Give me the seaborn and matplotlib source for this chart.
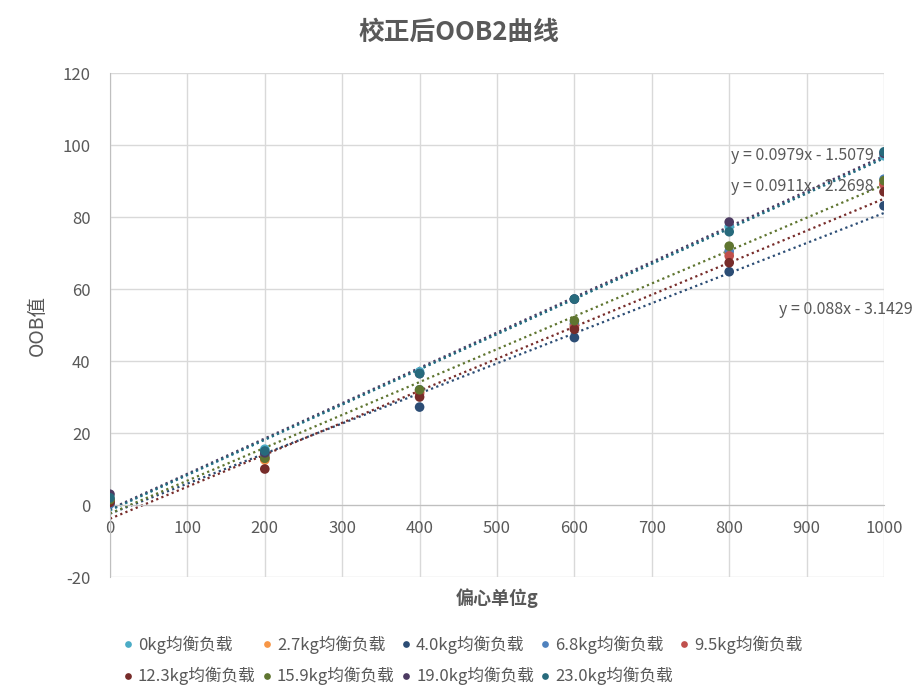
import numpy as np
import pandas as pd
import matplotlib
matplotlib.use("Agg")
import matplotlib.pyplot as plt
import seaborn as sns

# data
x_vals = [0, 200, 400, 600, 800, 1000]
loads = ["0kg均衡负载", "2.7kg均衡负载", "4.0kg均衡负载", "6.8kg均衡负载", "9.5kg均衡负载",
         "12.3kg均衡负载", "15.9kg均衡负载", "19.0kg均衡负载", "23.0kg均衡负载"]
y_0kg  = [1.0, 15.5, 37.0, 57.2, 77.3, 97.0]
y_2_7  = [0.8, 12.5, 31.5, 50.0, 70.1, 89.3]
y_4_0  = [0.5, 14.0, 27.2, 46.5, 64.8, 83.1]
y_6_8  = [0.3, 13.5, 32.0, 50.3, 70.5, 90.5]
y_9_5  = [1.2, 13.0, 31.0, 49.4, 69.2, 89.0]
y_12_3 = [0.7, 10.0, 30.0, 48.8, 67.3, 87.0]
y_15_9 = [1.5, 13.0, 32.0, 51.2, 71.9, 90.1]
y_19_0 = [3.0, 14.5, 36.5, 57.2, 78.6, 97.7]
y_23_0 = [2.0, 15.0, 36.5, 57.2, 75.9, 98.1]
series = [y_0kg, y_2_7, y_4_0, y_6_8, y_9_5, y_12_3, y_15_9, y_19_0, y_23_0]

colors = ["#4BACC6", "#F79646", "#2C4D75", "#4F81BD", "#C0504D",
          "#772C2A", "#5F7530", "#4D3B62", "#276A7C"]
# series that carry a trendline
trend = ["0kg均衡负载", "4.0kg均衡负载", "12.3kg均衡负载", "15.9kg均衡负载",
         "19.0kg均衡负载", "23.0kg均衡负载"]
eqs = ["y = 0.0979x - 1.5079", "y = 0.0911x - 2.2698", "y = 0.088x - 3.1429"]

rows = []
for name, ys in zip(loads, series):
    for xv, yv in zip(x_vals, ys):
        rows.append({"偏心单位g": xv, "OOB值": yv, "负载": name})
df = pd.DataFrame(rows)

sns.set_style("white")
plt.rcParams["font.family"] = ["Noto Sans CJK SC", "DejaVu Sans"]
plt.rcParams["axes.unicode_minus"] = False
gray = "#595959"

fig = plt.figure(figsize=(9.18, 6.99), dpi=100)
ax = fig.add_axes([110 / 918, 1 - 577 / 699, (884 - 110) / 918, (577 - 73) / 699])

for name, c in zip(loads, colors):
    if name in trend:
        sns.regplot(data=df[df["负载"] == name], x="偏心单位g", y="OOB值", ax=ax,
                    scatter=False, ci=None, color=c,
                    line_kws=dict(ls=(0, (1, 1.5)), lw=1.6))

sns.scatterplot(data=df, x="偏心单位g", y="OOB值", hue="负载", hue_order=loads,
                palette=colors, s=48, edgecolor="none", ax=ax, legend=True, zorder=3)

ax.set_xlim(0, 1000)
ax.set_ylim(-20, 120)
ax.set_xticks(range(0, 1001, 100))
ax.set_yticks(range(-20, 121, 20))
ax.grid(True, color="#d9d9d9", lw=1)
ax.set_axisbelow(True)
for s in ["top", "right"]:
    ax.spines[s].set_visible(False)
ax.spines["bottom"].set_position(("data", 0))
ax.spines["bottom"].set_color("#bfbfbf")
ax.spines["left"].set_color("#bfbfbf")
ax.tick_params(length=0, labelsize=12, labelcolor=gray)
ax.xaxis.set_tick_params(pad=11)
ax.yaxis.set_tick_params(pad=14)

ax.set_xlabel("偏心单位g", fontsize=13, fontweight="bold", color=gray)
ax.xaxis.set_label_coords(0.5, -0.022)
ax.set_ylabel("OOB值", fontsize=14, color=gray)
ax.yaxis.set_label_coords(-0.08, 0.5)

fig.text(459 / 918, 1 - 32 / 699, "校正后OOB2曲线", ha="center", va="center",
         fontsize=18.5, fontweight="bold", color=gray)

ax.text(895, 97.2, eqs[0], ha="center", va="center", fontsize=11.5, color=gray)
ax.text(894, 88.6, eqs[1], ha="center", va="center", fontsize=11.5, color=gray)
ax.text(951, 54.4, eqs[2], ha="center", va="center", fontsize=11.5, color=gray)

handles, labels = ax.get_legend_handles_labels()
ax.get_legend().remove()
# reorder so the 5-column legend reads row by row
order = [0, 5, 1, 6, 2, 7, 3, 8, 4]
fig.legend([handles[i] for i in order], [labels[i] for i in order],
           loc="center left", ncol=5, bbox_to_anchor=(107 / 918, 1 - 660.5 / 699),
           frameon=False, prop=dict(size=12), labelcolor=gray,
           markerscale=0.7, handletextpad=0.25, columnspacing=0.33,
           handlelength=0.7, labelspacing=0.78)

fig.savefig("out.png", dpi=100)
